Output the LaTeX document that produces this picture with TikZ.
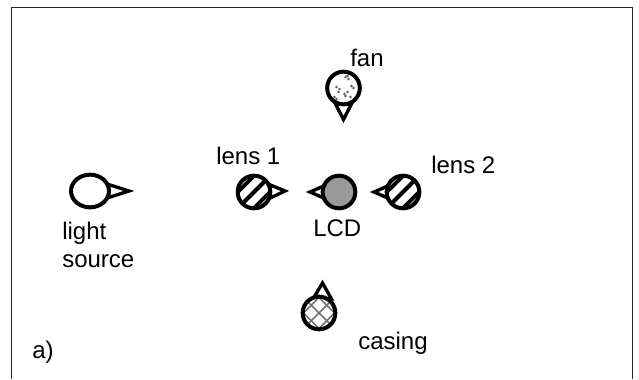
\documentclass[tikz,border=0pt]{standalone}
\usepackage{fontspec}
\setmainfont{Liberation Sans}
\usetikzlibrary{shapes.geometric}
\tikzset{
  x=0.75pt,y=-0.75pt,
  ring/.style={circle,draw=black,line width=3pt,minimum size=24.5pt,inner sep=0pt,fill=white},
  tipshape/.style={line width=2.5pt,draw=black,fill=white,line join=miter,miter limit=10},
  lbl/.style={font=\fontsize{18}{21}\selectfont,text=black,inner sep=0pt,align=left,anchor=base west},
  stripes/.style={path picture={
    \foreach \d in {-23,-11.5,0,11.5,23}
      \draw[black,line width=3pt,line cap=butt]
        ([shift={(-30+\d*0.7,30+\d*0.7)}]path picture bounding box.center) --
        ([shift={(30+\d*0.7,-30+\d*0.7)}]path picture bounding box.center);
  }},
  cross/.style={path picture={
    \foreach \d in {-22,-11,0,11,22}{
      \draw[black!55,line width=1.2pt]
        ([shift={(-30+\d*0.7,30+\d*0.7)}]path picture bounding box.center) --
        ([shift={(30+\d*0.7,-30+\d*0.7)}]path picture bounding box.center);
      \draw[black!55,line width=1.2pt]
        ([shift={(-30+\d*0.7,-30-\d*0.7)}]path picture bounding box.center) --
        ([shift={(30+\d*0.7,30-\d*0.7)}]path picture bounding box.center);
    }
  }},
  speck/.style={path picture={
    \foreach \p/\q in {2/-11,5/-9,4/-12,-7/-1,-4/1,-5/4,8/-2,10/0,4/4,1/6,2/8,-9/9,-7/11,7/9}
      \fill[black!65] ([shift={(\p,\q)}]path picture bounding box.center) circle[radius=1.4];
  }}
}
\begin{document}
\begin{tikzpicture}
\useasboundingbox (0,0) rectangle (639,379);
\fill[white] (0,0) rectangle (639,379);
\draw[line width=0.95pt,draw=black!85] (11.5,379) -- (11.5,7.5) -- (632.5,7.5) -- (632.5,379);
% anchor points of the pointers
\coordinate (ap0) at (129,191);
\coordinate (b0a) at (107,184);
\coordinate (b0b) at (107,198);
\coordinate (ap1) at (285,191);
\coordinate (b1a) at (268,184);
\coordinate (b1b) at (268,199);
\coordinate (ap2) at (310,192);
\coordinate (b2a) at (326,185);
\coordinate (b2b) at (326,199);
\coordinate (ap3) at (374,192);
\coordinate (b3a) at (390,185);
\coordinate (b3b) at (390,199);
\coordinate (ap4) at (343.5,119.5);
\coordinate (b4a) at (335.5,104);
\coordinate (b4b) at (351.5,104);
\coordinate (ap5) at (322.5,283);
\coordinate (b5a) at (313,299);
\coordinate (b5b) at (331.5,299);
\draw[tipshape] (b0a) -- (ap0) -- (b0b) -- cycle;
\draw[tipshape] (b1a) -- (ap1) -- (b1b) -- cycle;
\draw[tipshape] (b2a) -- (ap2) -- (b2b) -- cycle;
\draw[tipshape] (b3a) -- (ap3) -- (b3b) -- cycle;
\draw[tipshape] (b4a) -- (ap4) -- (b4b) -- cycle;
\draw[tipshape] (b5a) -- (ap5) -- (b5b) -- cycle;
% bodies
\node[ellipse,draw=black,line width=3pt,fill=white,minimum width=28.5pt,minimum height=24.5pt,inner sep=0pt] (light) at (90,191) {};
\node[ring,stripes] (lensA) at (254,192) {};
\node[ring,fill=black!40] (lcd) at (339,192) {};
\node[ring,stripes] (lensB) at (403,192) {};
\node[ring,speck] (fan) at (343.5,88) {};
\node[ring,cross] (casing) at (319,313) {};
% labels
\node[lbl] (tfan) at (350,66) {fan};
\node[lbl] (tlensA) at (216,164) {lens 1};
\node[lbl] (tlensB) at (431,173) {lens 2};
\node[lbl] (tlcd) at (313,236) {LCD};
\node[lbl] (tlight) at (62,239) {light};
\node[lbl] (tsource) at (62,267) {source};
\node[lbl] (tcasing) at (358,349) {casing};
\node[lbl] (ta) at (32,358) {a)};
\end{tikzpicture}
\end{document}
